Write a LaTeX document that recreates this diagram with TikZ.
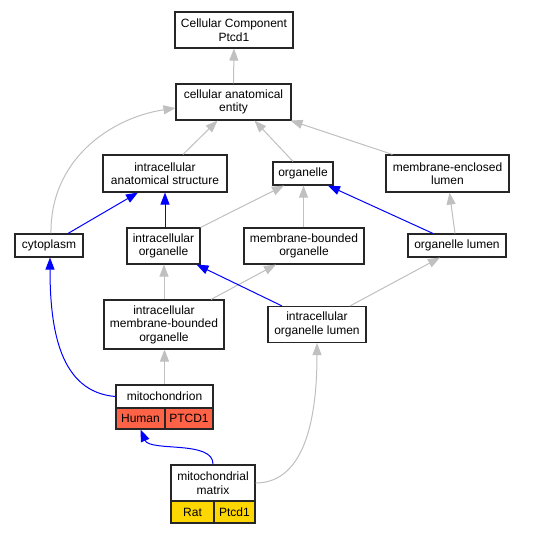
\documentclass[tikz,border=0pt]{standalone}
\usepackage{fontspec}
\setmainfont{Liberation Sans}
\usetikzlibrary{arrows.meta}
\definecolor{edgegray}{RGB}{192,192,192}
\definecolor{edgeblue}{RGB}{0,0,255}
\definecolor{humanfill}{RGB}{255,99,71}
\definecolor{ratfill}{RGB}{255,215,0}
\begin{document}
\begin{tikzpicture}[x=1pt,y=-1pt,
  box/.style={draw=black!85,line width=1.1pt,fill=white,align=center,inner sep=0pt,
    font=\fontsize{12}{13.5}\selectfont},
  isa/.style={draw=edgegray,line width=1pt,-{Triangle[length=12pt,width=9pt]}},
  partof/.style={draw=edgeblue,line width=1pt,-{Triangle[length=12pt,width=9pt]}}]
\fill[white] (0,0) rectangle (541,533);
\useasboundingbox (0,0) rectangle (541,533);
% nodes
\node[box,minimum width=118pt,minimum height=36pt] (cc) at (234,30) {Cellular Component\\Ptcd1};
\node[box,minimum width=115pt,minimum height=36pt] (cae) at (233.5,102) {cellular anatomical\\entity};
\node[box,minimum width=124pt,minimum height=37pt] (ias) at (165,173.5) {intracellular\\anatomical structure};
\node[box,minimum width=60pt,minimum height=23pt] (org) at (303,173.5) {organelle};
\node[box,minimum width=123pt,minimum height=37pt] (mel) at (447.5,173.5) {membrane-enclosed\\lumen};
\node[box,minimum width=68pt,minimum height=23pt] (cyto) at (49,245.5) {cytoplasm};
\node[box,minimum width=73pt,minimum height=36pt] (io) at (163.5,246) {intracellular\\organelle};
\node[box,minimum width=120pt,minimum height=36pt] (mbo) at (304,246) {membrane-bounded\\organelle};
\node[box,minimum width=98pt,minimum height=23pt] (ol) at (457,245.5) {organelle lumen};
\node[box,minimum width=120pt,minimum height=49pt] (icmbo) at (164,324.5) {intracellular\\membrane-bounded\\organelle};
\node[box,minimum width=98pt,minimum height=36pt] (icol) at (317,324.5) {intracellular\\organelle lumen};
\node[box,minimum width=97pt,minimum height=23pt] (mito) at (164.5,396.5) {mitochondrion};
\node[box,fill=humanfill,minimum width=49pt,minimum height=21pt] (human) at (140.5,418.5) {Human};
\node[box,fill=humanfill,minimum width=48pt,minimum height=21pt] (hgene) at (189,418.5) {PTCD1};
\node[box,minimum width=84pt,minimum height=36pt] (mm) at (213,483) {mitochondrial\\matrix};
\node[box,fill=ratfill,minimum width=43pt,minimum height=22pt] (rat) at (192.5,512) {Rat};
\node[box,fill=ratfill,minimum width=41pt,minimum height=22pt] (rgene) at (234.5,512) {Ptcd1};
% edges
\draw[isa] (cae.north) -- (cc.south);
\draw[isa] ([xshift=18pt]ias.north) -- ([xshift=-16pt]cae.south);
\draw[isa] ([xshift=-10pt]org.north) -- ([xshift=21pt]cae.south);
\draw[isa] ([xshift=-55pt]mel.north) -- ([xshift=-1pt]cae.south east);
\draw[isa] ([xshift=2pt]cyto.north) .. controls (50,160) and (110,118) .. ([yshift=-6pt]cae.west);
\draw[partof] ([xshift=19pt]cyto.north) -- ([xshift=-27pt]ias.south);
\draw[partof] ([xshift=1.5pt]io.north) -- (ias.south);
\draw[isa] (io.north east) -- ([xshift=-19pt]org.south);
\draw[isa] ([xshift=-0.5pt]mbo.north) -- ([xshift=0.5pt]org.south);
\draw[partof] ([xshift=-24pt]ol.north) -- ([xshift=25pt]org.south);
\draw[isa] ([xshift=-2pt]ol.north) -- ([xshift=2pt]mel.south);
\draw[isa] (icmbo.north) -- (icmbo.north |- io.south);
\draw[isa] ([xshift=47pt]icmbo.north) -- ([xshift=-28pt]mbo.south);
\draw[partof] ([xshift=-35pt]icol.north) -- ([xshift=33pt]io.south);
\draw[isa] ([xshift=33pt]icol.north) -- ([xshift=-17pt]ol.south);
\draw[isa] (mito.north) -- (mito.north |- icmbo.south);
\draw[partof] (mito.west) .. controls (60,392) and (50,330) .. ([xshift=1pt]cyto.south);
\draw[partof] (mm.north) .. controls (214,440) and (150,452) .. (human.south);
\draw[isa] (mm.east) .. controls (300,483) and (317,430) .. (icol.south);
\end{tikzpicture}
\end{document}
